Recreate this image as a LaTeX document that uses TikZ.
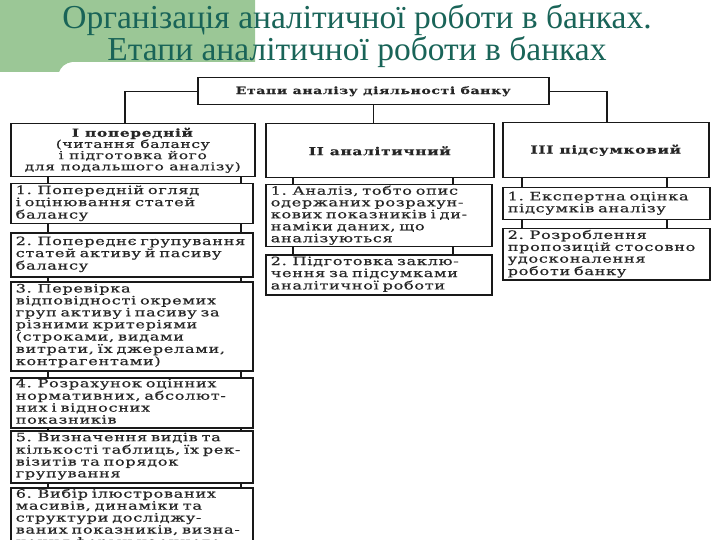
\documentclass[tikz,border=0pt]{standalone}
\usepackage{fontspec}
\setmainfont{Liberation Serif}
\newfontfamily\boxfont[FakeStretch=1.4,LetterSpace=6,FakeBold=0.6]{DejaVu Serif}
\newcommand\lines[1]{\begin{tabular}{@{}l@{}}#1\end{tabular}}
\definecolor{titlecol}{RGB}{25,100,88}
\definecolor{greenbg}{RGB}{155,199,150}
\definecolor{lineg}{RGB}{25,25,25}
\tikzset{
  box/.style={draw=lineg, line width=1.5pt, fill=white, inner xsep=5pt, inner ysep=1pt,
    font=\boxfont\fontsize{11.5}{11.9}\selectfont, text=black!85},
  item/.style n args={3}{box, anchor=north west, minimum width=#1, minimum height=#2,
    text width=#3, align=left},
  head/.style 2 args={box, anchor=north west, minimum width=#1, minimum height=#2, align=center},
  conn/.style={draw=lineg, line width=1.3pt}
}
\renewcommand\arraystretch{0.98}
\begin{document}
\begin{tikzpicture}[x=1pt,y=-1pt]
\useasboundingbox (0,0) rectangle (720,540);
% green corner block
\fill[greenbg] (0,0) -- (255,0) -- (255,62) -- (72,62) .. controls (65,63) and (61,67) .. (59,72) -- (0,72) -- cycle;
% title
\node[font=\fontsize{33.5}{32}\selectfont, text=titlecol, align=center] (title) at (357,36)
  {Організація аналітичної роботи в банках.\\Етапи аналітичної роботи в банках};
% coordinates for connector columns
\coordinate (C1) at (125,0);
\coordinate (L1) at (48,0);
\coordinate (L2) at (241,0);
\coordinate (M1) at (293,0);
\coordinate (M2) at (453,0);
\coordinate (R1) at (522,0);
\coordinate (R2) at (667,0);
\coordinate (C3) at (607,0);
% top box
\node[head={351}{27}, font=\boxfont\bfseries\fontsize{10}{11}\selectfont] (top) at (197,77) {Етапи аналізу діяльності банку};
% stage headers
\node[head={244}{53}, font=\boxfont\fontsize{11}{11.2}\selectfont] (hI) at (10,123) {\textbf{I попередній}\\(читання балансу\\і підготовка його\\для подальшого аналізу)};
\node[head={228}{54}, font=\boxfont\bfseries\fontsize{11}{11.8}\selectfont] (hII) at (265,123) {II аналітичний};
\node[head={206}{55}, font=\boxfont\bfseries\fontsize{11}{11.8}\selectfont] (hIII) at (502,122) {III підсумковий};
% left column
\node[item={242}{40}{232}] (i1) at (10,183) {\lines{1. Попередній огляд\\і оцінювання статей\\балансу}};
\node[item={242}{44}{232}] (i2) at (10,232) {\lines{2. Попереднє групування\\статей активу й пасиву\\балансу}};
\node[item={242}{89}{232}] (i3) at (10,281) {\lines{3. Перевірка\\відповідності окремих\\груп активу і пасиву за\\різними критеріями\\(строками, видами\\витрати, їх джерелами,\\контрагентами)}};
\node[item={242}{49}{232}] (i4) at (10,377) {\lines{4. Розрахунок оцінних\\нормативних, абсолют-\\них і відносних\\показників}};
\node[item={242}{52}{232}] (i5) at (10,430) {\lines{5. Визначення видів та\\кількості таблиць, їх рек-\\візитів та порядок\\групування}};
\node[item={242}{62}{232}] (i6) at (10,487) {\lines{6. Вибір ілюстрованих\\масивів, динаміки та\\структури досліджу-\\ваних показників, визна-\\чення форми наочного}};
% middle column
\node[item={226}{60}{216}] (m1) at (265,184) {\lines{1. Аналіз, тобто опис\\одержаних розрахун-\\кових показників і ди-\\наміки даних, що\\аналізуються}};
\node[item={226}{40}{216}] (m2) at (265,254) {\lines{2. Підготовка заклю-\\чення за підсумками\\аналітичної роботи}};
% right column
\node[item={207}{32}{197}] (r1) at (502,187) {\lines{1. Експертна оцінка\\підсумків аналізу}};
\node[item={207}{51}{197}] (r2) at (502,228) {\lines{2. Розроблення\\пропозицій стосовно\\удосконалення\\роботи банку}};
% connectors from top box
\draw[conn] (top.west) -| (hI.north -| C1);
\draw[conn] (top.east) -| (hIII.north -| C3);
\draw[conn] (top.south) -- (top.south |- hII.north);
% column links
\foreach \a/\b in {hI/i1, i1/i2, i2/i3, i3/i4, i4/i5, i5/i6}{
  \draw[conn] (\a.south -| L1) -- (\b.north -| L1);
  \draw[conn] (\a.south -| L2) -- (\b.north -| L2);
}
\foreach \a/\b in {hII/m1, m1/m2}{
  \draw[conn] (\a.south -| M1) -- (\b.north -| M1);
  \draw[conn] (\a.south -| M2) -- (\b.north -| M2);
}
\foreach \a/\b in {hIII/r1, r1/r2}{
  \draw[conn] (\a.south -| R1) -- (\b.north -| R1);
  \draw[conn] (\a.south -| R2) -- (\b.north -| R2);
}
\end{tikzpicture}
\end{document}
